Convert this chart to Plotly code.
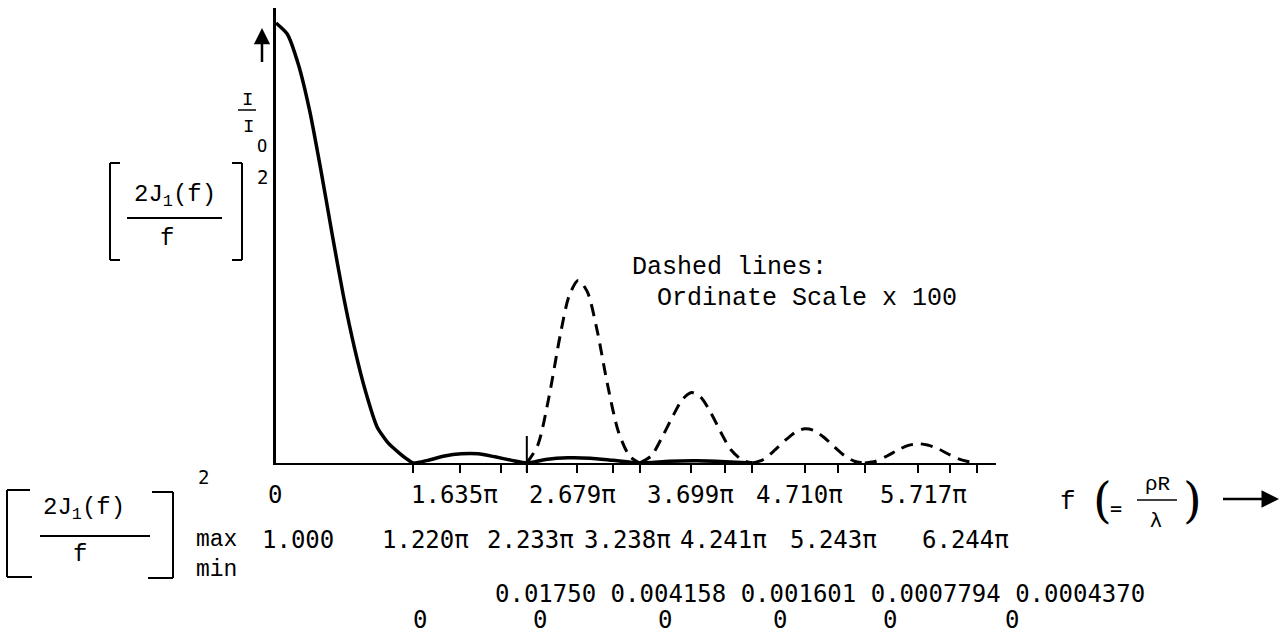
import plotly.graph_objects as go

# ---------------- data (f in units of pi, intensity I/I0) ----------------
solid_f = [0, 0.1, 0.2, 0.3, 0.4, 0.5, 0.6, 0.7, 0.8, 0.9, 1.0, 1.1, 1.16, 1.22,
           1.35, 1.5, 1.65, 1.8, 1.95, 2.1, 2.233,
           2.4, 2.6, 2.8, 3.0, 3.238,
           3.5, 3.75, 4.0, 4.241]
solid_I = [1.0, 0.975, 0.905, 0.80, 0.665, 0.52, 0.38, 0.26, 0.16, 0.082, 0.045, 0.022, 0.01, 0.0,
           0.006, 0.016, 0.021, 0.021, 0.014, 0.006, 0.0,
           0.008, 0.012, 0.011, 0.006, 0.0,
           0.004, 0.005, 0.003, 0.0]

# dashed curve: ordinate x 100
dash_lobe1_f = [2.233, 2.33, 2.43, 2.53, 2.61, 2.69, 2.77, 2.86, 2.95, 3.05, 3.15, 3.238]
dash_lobe1_I = [0.0, 0.04, 0.15, 0.29, 0.38, 0.415, 0.39, 0.30, 0.18, 0.07, 0.015, 0.0]
dash_lobe2_f = [3.238, 3.34, 3.44, 3.54, 3.62, 3.70, 3.78, 3.87, 3.96, 4.05, 4.15, 4.241]
dash_lobe2_I = [0.0, 0.016, 0.06, 0.11, 0.145, 0.160, 0.150, 0.115, 0.07, 0.03, 0.007, 0.0]
dash_lobe3_f = [4.241, 4.34, 4.44, 4.54, 4.63, 4.71, 4.79, 4.88, 4.97, 5.06, 5.15, 5.243]
dash_lobe3_I = [0.0, 0.008, 0.029, 0.053, 0.071, 0.078, 0.074, 0.058, 0.037, 0.017, 0.004, 0.0]
dash_lobe4_f = [5.243, 5.34, 5.44, 5.54, 5.63, 5.72, 5.80, 5.89, 5.98, 6.07, 6.15, 6.21]
dash_lobe4_I = [0.0, 0.004, 0.016, 0.030, 0.040, 0.0437, 0.041, 0.033, 0.021, 0.010, 0.004, 0.002]

tick_vals = [1.22, 1.635, 2.0, 2.233, 2.679, 3.0, 3.238, 3.699, 4.0, 4.241,
             4.71, 5.0, 5.243, 5.717, 6.0, 6.244]

max_pos_labels = ["0", "1.635π", "2.679π", "3.699π", "4.710π", "5.717π"]
min_pos_labels = ["1.220π", "2.233π", "3.238π", "4.241π", "5.243π", "6.244π"]
max_values = ["0.01750", "0.004158", "0.001601", "0.0007794", "0.0004370"]
min_values = ["0", "0", "0", "0", "0", "0"]
max_first = "1.000"

# ---------------- figure ----------------
W, H = 1283, 636
L, R, T, B = 276, 287, 8, 173
PW, PH = W - L - R, H - T - B
XMAX, YMAX = 6.41, 1.034


def px(x):
    return (x - L) / PW


def py(y):
    return (H - B - y) / PH


fig = go.Figure()
fig.add_trace(go.Scatter(x=solid_f, y=solid_I, mode="lines",
                         line=dict(color="black", width=3.5, shape="spline", smoothing=0.6),
                         hoverinfo="skip", showlegend=False))
df, dI = [], []
for ff, ii in [(dash_lobe1_f, dash_lobe1_I), (dash_lobe2_f, dash_lobe2_I),
               (dash_lobe3_f, dash_lobe3_I), (dash_lobe4_f, dash_lobe4_I)]:
    df += ff + [None]
    dI += ii + [None]
fig.add_trace(go.Scatter(x=df, y=dI, mode="lines", connectgaps=False,
                         line=dict(color="black", width=3, dash="12px,8px",
                                   shape="spline", smoothing=0.8),
                         hoverinfo="skip", showlegend=False))

MONO = "DejaVu Sans Mono"
TYPE = "Liberation Mono"
ann = []


def text(t, x, y, size=26, font=MONO, xanchor="left", yanchor="middle"):
    ann.append(dict(text=t, x=px(x), y=py(y), xref="paper", yref="paper",
                    showarrow=False, xanchor=xanchor, yanchor=yanchor,
                    font=dict(family=font, size=size, color="black")))


# y-axis label (top-left)
text("I", 247, 100, 19, TYPE, "center")
text("I", 248, 127, 19, TYPE, "center")
text("O", 262, 146, 17, MONO, "center")
text("2", 262, 177, 19, MONO, "center")
text("2J<sub>1</sub>(f)", 175, 196, 24, TYPE, "center")
text("f", 167, 238, 24, TYPE, "center")

# bottom-left label
text("2", 203, 477, 19, MONO, "center")
text("2J<sub>1</sub>(f)", 84, 509, 24, TYPE, "center")
text("f", 80, 554, 24, TYPE, "center")
text("max", 194, 540, 23, TYPE, "left")
text("min", 194, 570, 23, TYPE, "left")

# dashed note
text("Dashed lines:", 630, 267, 25, TYPE, "left")
text("Ordinate Scale x 100", 655, 298, 25, TYPE, "left")

# row 1: maxima positions
row1_center = [275, 454, 572, 690, 799, 923]
for lab, xc in zip(max_pos_labels, row1_center):
    text(lab, xc, 495, 24, MONO, "center")
# row 2: max value 1.000 and minima positions
text(max_first, 260, 540, 24, MONO, "left")
row2_center = [425, 530, 627, 723, 833, 965]
for lab, xc in zip(min_pos_labels, row2_center):
    text(lab, xc, 540, 24, MONO, "center")
# row 3: maxima values
text(" ".join(max_values), 1147, 594, 24, MONO, "right")
# row 4: minima values
row4_center = [420, 540, 665, 780, 890, 1012]
for lab, xc in zip(min_values, row4_center):
    text(lab, xc, 620, 24, MONO, "center")

# f (= rho R / lambda) ->
text("f", 1068, 502, 26, TYPE, "center")
text("(", 1102, 500, 48, "DejaVu Serif", "center")
text("=", 1116, 508, 20, MONO, "center")
text("ρR", 1158, 484, 21, TYPE, "center")
text("λ", 1156, 520, 20, "DejaVu Sans", "center")
text(")", 1192, 500, 48, "DejaVu Serif", "center")

# arrows
ann.append(dict(x=px(1279), y=py(499), ax=-59, ay=0, xref="paper", yref="paper",
                axref="pixel", ayref="pixel", showarrow=True, arrowhead=2, arrowsize=1.4,
                arrowwidth=2.5, arrowcolor="black", text=" "))
ann.append(dict(x=px(262), y=py(28), ax=0, ay=44, xref="paper", yref="paper",
                axref="pixel", ayref="pixel", showarrow=True, arrowhead=2, arrowsize=1.3,
                arrowwidth=2.5, arrowcolor="black", text=" "))

shapes = []


def line(x0, y0, x1, y1, w=2):
    shapes.append(dict(type="line", xref="paper", yref="paper", x0=px(x0), y0=py(y0),
                       x1=px(x1), y1=py(y1), line=dict(color="black", width=w)))


# top bracket
line(110, 163, 110, 260); line(110, 163, 120, 163); line(110, 260, 120, 260)
line(242, 163, 242, 260); line(232, 163, 242, 163); line(232, 260, 242, 260)
line(127, 218, 222, 218)
# bottom bracket
line(7, 490, 7, 577); line(7, 490, 30, 490); line(7, 577, 32, 577)
line(173, 492, 173, 578); line(152, 492, 173, 492); line(148, 578, 173, 578)
line(40, 536, 150, 536)
# I/I0 fraction bar
line(238, 110, 256, 110, 1.5)
# rho R / lambda fraction bar
line(1137, 500, 1177, 500, 1.5)
# marker at start of dashed curve
shapes.append(dict(type="line", xref="x", yref="paper", x0=2.233, x1=2.233,
                   y0=py(472), y1=py(436), line=dict(color="black", width=2)))

fig.update_layout(
    width=W, height=H, autosize=False,
    margin=dict(l=L, r=R, t=T, b=B, pad=0),
    paper_bgcolor="white", plot_bgcolor="white",
    annotations=ann, shapes=shapes, showlegend=False,
    xaxis=dict(range=[0, XMAX], showgrid=False, zeroline=False, showline=True,
               linecolor="black", linewidth=2, ticks="outside", ticklen=8,
               tickwidth=1.5, tickcolor="black", tickvals=tick_vals,
               showticklabels=False),
    yaxis=dict(range=[0, YMAX], showgrid=False, zeroline=False, showline=True,
               linecolor="black", linewidth=3, ticks="", showticklabels=False),
)
fig.write_html("out.html")
